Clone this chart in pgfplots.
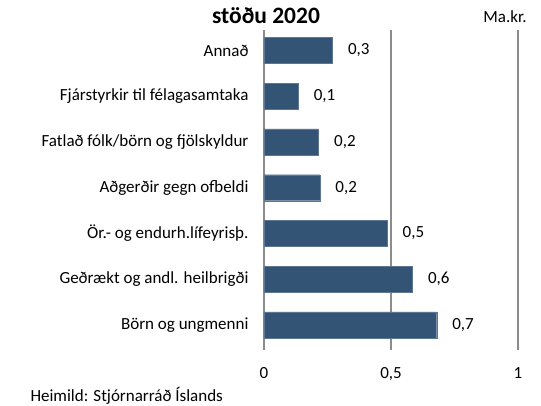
\documentclass[border=0pt]{standalone}
\usepackage{pgfplots}
\pgfplotsset{compat=1.18}
\usepackage{fontspec}
\setmainfont{Carlito}
\definecolor{barblue}{RGB}{52,84,118}
\definecolor{gridgray}{RGB}{140,140,140}
\begin{document}
\begin{tikzpicture}[x=1pt,y=1pt]
\path[use as bounding box] (0,0) rectangle (541,406);
\begin{axis}[
  at={(264pt,56pt)}, anchor=south west,
  scale only axis, width=254pt, height=320pt,
  xbar, bar width=26pt,
  xmin=0, xmax=1, ymin=-0.55, ymax=6.45,
  axis line style={draw=none},
  xtick={0,0.5,1}, ytick={0,...,6},
  yticklabels={Börn og ungmenni,Geðrækt og andl. heilbrigði,Ör.- og endurh.lífeyrisþ.,Aðgerðir gegn ofbeldi,Fatlað fólk/börn og fjölskyldur,Fjárstyrkir til félagasamtaka,Annað},
  ticklabel style={font=\fontsize{17}{20}\selectfont, text=black},
  yticklabel style={xshift=-12pt},
  xticklabel style={yshift=-14pt},
  /pgf/number format/assume math mode=true,
  xticklabel={\pgfmathprintnumber[use comma]{\tick}},
  major tick length=0pt,
  nodes near coords,
  every node near coord/.append style={font=\fontsize{17}{20}\selectfont, xshift=12pt},
  nodes near coords={\pgfmathprintnumber[fixed, fixed zerofill, precision=1, use comma, assume math mode=true]{\pgfplotspointmeta}},
  clip=false,
]
\draw[gridgray, line width=1.3pt] (axis cs:0,-0.55) -- (axis cs:0,6.45);
\draw[gridgray, line width=1.3pt] (axis cs:0.5,-0.55) -- (axis cs:0.5,6.45);
\draw[gridgray, line width=1.3pt] (axis cs:1,-0.55) -- (axis cs:1,6.45);
\addplot[fill=barblue, draw=barblue!80!white] coordinates {(0.68,0) (0.585,1) (0.485,2) (0.22,3) (0.215,4) (0.135,5) (0.27,6)};
\end{axis}
\node[font=\fontsize{23.5}{26}\selectfont\bfseries] at (266,390) {stöðu 2020};
\node[font=\fontsize{17}{20}\selectfont] at (505,389) {Ma.kr.};
\node[font=\fontsize{17}{20}\selectfont, anchor=west] at (27,10) {Heimild: Stjórnarráð Íslands};
\end{tikzpicture}
\end{document}
